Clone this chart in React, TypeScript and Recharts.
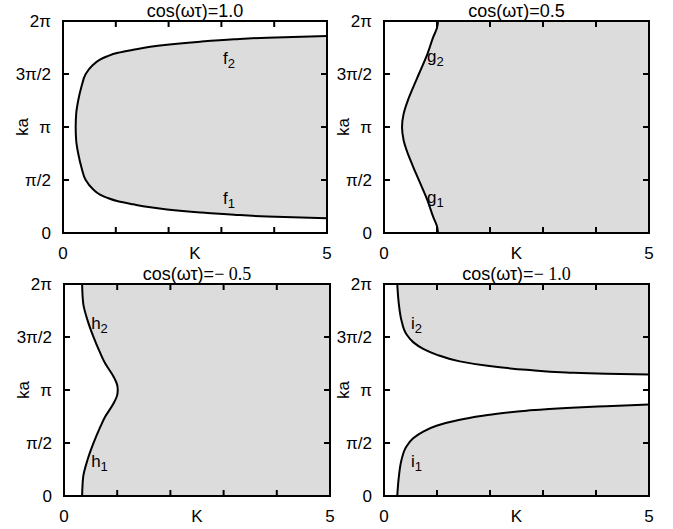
import React from 'react';
import { ComposedChart, Area, Line, XAxis, YAxis, ReferenceDot, ReferenceLine } from 'recharts';

const TWO_PI = 2 * Math.PI;
const K_MAX = 5;

// Axis ticks
const kTicks = [0, 1, 2, 3, 4, 5];
const kTickLabels = ['0', '', '', '', '', '5'];
const kaTicks = [0, Math.PI / 2, Math.PI, (3 * Math.PI) / 2, TWO_PI];
const kaTickLabels = ['0', 'π/2', 'π', '3π/2', '2π'];

// Panel 1: cos(ωτ)=1.0, boundary f (K at each ka)
const fKa = [0.44, 0.49, 0.54, 0.61, 0.7, 0.77, 0.85, 0.94, 1.04, 1.14, 1.31, 1.57, 1.94, 2.34, 2.74, 3.14, 3.54, 3.94, 4.34, 4.71, 4.97, 5.14, 5.24, 5.34, 5.43, 5.51, 5.58, 5.67, 5.74, 5.79, 5.84];
const fK = [5.0, 3.87, 3.24, 2.6, 1.97, 1.62, 1.33, 1.04, 0.84, 0.7, 0.56, 0.43, 0.35, 0.29, 0.25, 0.24, 0.25, 0.29, 0.35, 0.43, 0.56, 0.7, 0.84, 1.04, 1.33, 1.62, 1.97, 2.6, 3.24, 3.87, 5.0];

// Panel 2: cos(ωτ)=0.5, boundary g
const gKa = [0, 0.2, 0.47, 0.97, 1.56, 2.0, 2.35, 2.75, 3.14, 3.53, 3.93, 4.28, 4.72, 5.31, 5.81, 6.08, 6.2832];
const gK = [1.02, 1.0, 0.93, 0.82, 0.66, 0.54, 0.45, 0.37, 0.34, 0.37, 0.45, 0.54, 0.66, 0.82, 0.93, 1.0, 1.02];

// Panel 3: cos(ωτ)=-0.5, boundary h
const hKa = [0, 0.56, 1.06, 1.55, 2.04, 2.34, 2.74, 2.99, 3.14, 3.29, 3.54, 3.94, 4.24, 4.73, 5.22, 5.72, 6.2832];
const hK = [0.34, 0.36, 0.44, 0.55, 0.68, 0.77, 0.93, 1.0, 1.01, 1.0, 0.93, 0.77, 0.68, 0.55, 0.44, 0.36, 0.34];

// Panel 4: cos(ωτ)=-1.0, boundaries i1 and i2
const i1Ka = [0, 0.57, 1.07, 1.46, 1.71, 1.91, 2.08, 2.26, 2.41, 2.53, 2.61, 2.66, 2.71];
const i1K = [0.25, 0.28, 0.33, 0.42, 0.55, 0.74, 0.99, 1.43, 1.99, 2.69, 3.44, 4.19, 5.0];
const i2Ka = [3.6, 3.62, 3.66, 3.74, 3.85, 3.99, 4.19, 4.36, 4.56, 4.8, 5.2, 5.69, 6.2832];
const i2K = [5.0, 4.19, 3.44, 2.69, 1.99, 1.43, 0.99, 0.74, 0.55, 0.42, 0.33, 0.28, 0.25];

// Titles
const titleSans = ['cos(ωτ)=1.0', 'cos(ωτ)=0.5', 'cos(ωτ)=', 'cos(ωτ)='];
const titleSerif = ['', '', '− 0.5', '− 1.0'];

// Curve annotations
const notesF = [
  { base: 'f', sub: '2', K: 3.03, ka: 5.01 },
  { base: 'f', sub: '1', K: 3.03, ka: 0.86 },
];
const notesG = [
  { base: 'g', sub: '2', K: 0.81, ka: 5.07 },
  { base: 'g', sub: '1', K: 0.81, ka: 0.89 },
];
const notesH = [
  { base: 'h', sub: '2', K: 0.51, ka: 4.95 },
  { base: 'h', sub: '1', K: 0.51, ka: 0.86 },
];
const notesI = [
  { base: 'i', sub: '2', K: 0.51, ka: 4.95 },
  { base: 'i', sub: '1', K: 0.51, ka: 0.86 },
];

const FONT = "'Liberation Sans', Arial, Helvetica, sans-serif";
const SERIF = "'Liberation Serif', 'Times New Roman', serif";
const FILL = '#dcdcdc';
const TICK_LEN = 6;
const X_MARGIN = 14;
const Y_MARGIN = 12;
const FRAME_W = 2;

function makeRows(ka: number[], K: number[]) {
  return ka.map((v, i) => ({ ka: v, K: K[i], band: [K[i], K_MAX] }));
}

type Box = { left: number; top: number; width: number; height: number };
type Plot = { l: number; t: number; r: number; b: number };

function Panel({ box, plot, idx, curves, notes }: { box: Box; plot: Plot; idx: number; curves: any[][]; notes: any[] }) {
  const yW = plot.l - box.left;
  const xH = box.top + box.height - plot.b;
  const margin = { top: plot.t - box.top, right: box.left + box.width - plot.r, left: 0, bottom: 0 };
  const plotW = plot.r - plot.l;
  const axisStroke = { stroke: '#000', strokeWidth: FRAME_W };

  const BottomTick = (props: any) => {
    const { x, y, payload } = props;
    const i = kTicks.indexOf(payload.value);
    const axisY = y - X_MARGIN;
    return (
      <g>
        {kTickLabels[i] ? (
          <text x={x} y={axisY + 26} textAnchor="middle" fontSize={17} fontFamily={FONT} fill="#000">
            {kTickLabels[i]}
          </text>
        ) : null}
      </g>
    );
  };
  const LeftTick = (props: any) => {
    const { x, y, payload } = props;
    const i = kaTicks.findIndex((t) => Math.abs(t - payload.value) < 1e-6);
    return (
      <g>
        {i >= 0 ? (
          <text x={x} y={y} dy="0.36em" textAnchor="end" fontSize={17} fontFamily={FONT} fill="#000">
            {kaTickLabels[i]}
          </text>
        ) : null}
      </g>
    );
  };

  const kContent = (props: any) => {
    const vb = props.viewBox || {};
    return (
      <text x={vb.x + vb.width / 2} y={vb.y + 26} textAnchor="middle" fontSize={17} fontFamily={FONT} fill="#000">
        K
      </text>
    );
  };
  // left-axis label: "ka", panel title, and the frame with inward ticks
  const kaContent = (props: any) => {
    const vb = props.viewBox || {};
    const plotLeft = vb.x + vb.width;
    const top = vb.y;
    const h = vb.height;
    const cx = plotLeft - 41;
    const cy = top + h / 2;
    const innerK = kTicks.slice(1, -1);
    const innerKa = kaTicks.slice(1, -1);
    return (
      <g>
        <rect x={plotLeft} y={top} width={plotW} height={h} fill="none" stroke="#000" strokeWidth={FRAME_W} />
        {innerK.map((k) => {
          const px = plotLeft + (k / K_MAX) * plotW;
          return (
            <g key={`kt${k}`}>
              <line x1={px} x2={px} y1={top + h} y2={top + h - TICK_LEN} stroke="#000" strokeWidth={FRAME_W} />
              <line x1={px} x2={px} y1={top} y2={top + TICK_LEN} stroke="#000" strokeWidth={FRAME_W} />
            </g>
          );
        })}
        {innerKa.map((t, j) => {
          const py = top + h * (1 - t / TWO_PI);
          return (
            <g key={`yt${j}`}>
              <line x1={plotLeft} x2={plotLeft + TICK_LEN} y1={py} y2={py} stroke="#000" strokeWidth={FRAME_W} />
              <line x1={plotLeft + plotW} x2={plotLeft + plotW - TICK_LEN} y1={py} y2={py} stroke="#000" strokeWidth={FRAME_W} />
            </g>
          );
        })}
        <text x={cx} y={cy} transform={`rotate(-90 ${cx} ${cy})`} textAnchor="middle" dominantBaseline="central" fontSize={17} fontFamily={FONT} fill="#000">
          ka
        </text>
        <text x={plotLeft + plotW / 2} y={top - 4} textAnchor="middle" fontSize={18} fontFamily={FONT} fill="#000">
          <tspan>{titleSans[idx]}</tspan>
          {titleSerif[idx] ? <tspan fontFamily={SERIF}>{titleSerif[idx]}</tspan> : null}
        </text>
      </g>
    );
  };
  const noteContent = (n: any) => (props: any) => {
    const vb = props.viewBox || {};
    const x = vb.x + (vb.width || 0) / 2;
    const y = vb.y + (vb.height || 0) / 2;
    return (
      <text x={x} y={y} fontSize={17} fontFamily={FONT} fill="#000">
        <tspan>{n.base}</tspan>
        <tspan dy={4} fontSize={13}>{n.sub}</tspan>
      </text>
    );
  };

  return (
    <div style={{ position: 'absolute', left: box.left, top: box.top }}>
      <ComposedChart layout="vertical" width={box.width} height={box.height} margin={margin}>
        {curves.map((rows, i) => (
          <Area
            key={`a${i}`}
            xAxisId="b"
            yAxisId="l"
            data={rows}
            dataKey="band"
            type="monotoneY"
            stroke="none"
            fill={FILL}
            fillOpacity={1}
            isAnimationActive={false}
            activeDot={false}
          />
        ))}
        {curves.map((rows, i) => (
          <Line
            key={`l${i}`}
            xAxisId="b"
            yAxisId="l"
            data={rows}
            dataKey="K"
            type="monotoneY"
            stroke="#000"
            strokeWidth={2}
            dot={false}
            activeDot={false}
            isAnimationActive={false}
          />
        ))}
        <ReferenceLine xAxisId="b" yAxisId="l" y={TWO_PI} stroke="#000" strokeWidth={FRAME_W} ifOverflow="visible" />
        <ReferenceLine xAxisId="b" yAxisId="l" x={K_MAX} stroke="#000" strokeWidth={FRAME_W} ifOverflow="visible" />
        <XAxis
          xAxisId="b"
          type="number"
          orientation="bottom"
          domain={[0, K_MAX]}
          allowDataOverflow
          ticks={kTicks}
          interval={0}
          height={xH}
          tickSize={0}
          tickMargin={X_MARGIN}
          axisLine={axisStroke}
          tickLine={false}
          tick={BottomTick}
          label={kContent}
        />
        <YAxis
          yAxisId="l"
          type="number"
          dataKey="ka"
          orientation="left"
          reversed
          domain={[0, TWO_PI]}
          allowDataOverflow
          ticks={kaTicks}
          interval={0}
          width={yW}
          tickSize={0}
          tickMargin={Y_MARGIN}
          axisLine={axisStroke}
          tickLine={false}
          tick={LeftTick}
          label={kaContent}
        />
        {notes.map((n, i) => (
          <ReferenceDot
            key={`n${i}`}
            xAxisId="b"
            yAxisId="l"
            x={n.K}
            y={n.ka}
            r={0}
            fill="none"
            stroke="none"
            label={noteContent(n)}
          />
        ))}
      </ComposedChart>
    </div>
  );
}

export default function App() {
  return (
    <div style={{ position: 'absolute', left: 0, top: 0, width: 673, height: 529, background: '#fff', fontFamily: FONT }}>
      <Panel
        idx={0}
        box={{ left: 0, top: 0, width: 336, height: 264 }}
        plot={{ l: 63, t: 21, r: 327, b: 233 }}
        curves={[makeRows(fKa, fK)]}
        notes={notesF}
      />
      <Panel
        idx={1}
        box={{ left: 328, top: 0, width: 345, height: 264 }}
        plot={{ l: 384, t: 21, r: 649, b: 233 }}
        curves={[makeRows(gKa, gK)]}
        notes={notesG}
      />
      <Panel
        idx={2}
        box={{ left: 0, top: 264, width: 336, height: 265 }}
        plot={{ l: 64, t: 284, r: 330, b: 496 }}
        curves={[makeRows(hKa, hK)]}
        notes={notesH}
      />
      <Panel
        idx={3}
        box={{ left: 328, top: 264, width: 345, height: 265 }}
        plot={{ l: 384, t: 284, r: 649, b: 496 }}
        curves={[makeRows(i1Ka, i1K), makeRows(i2Ka, i2K)]}
        notes={notesI}
      />
    </div>
  );
}
